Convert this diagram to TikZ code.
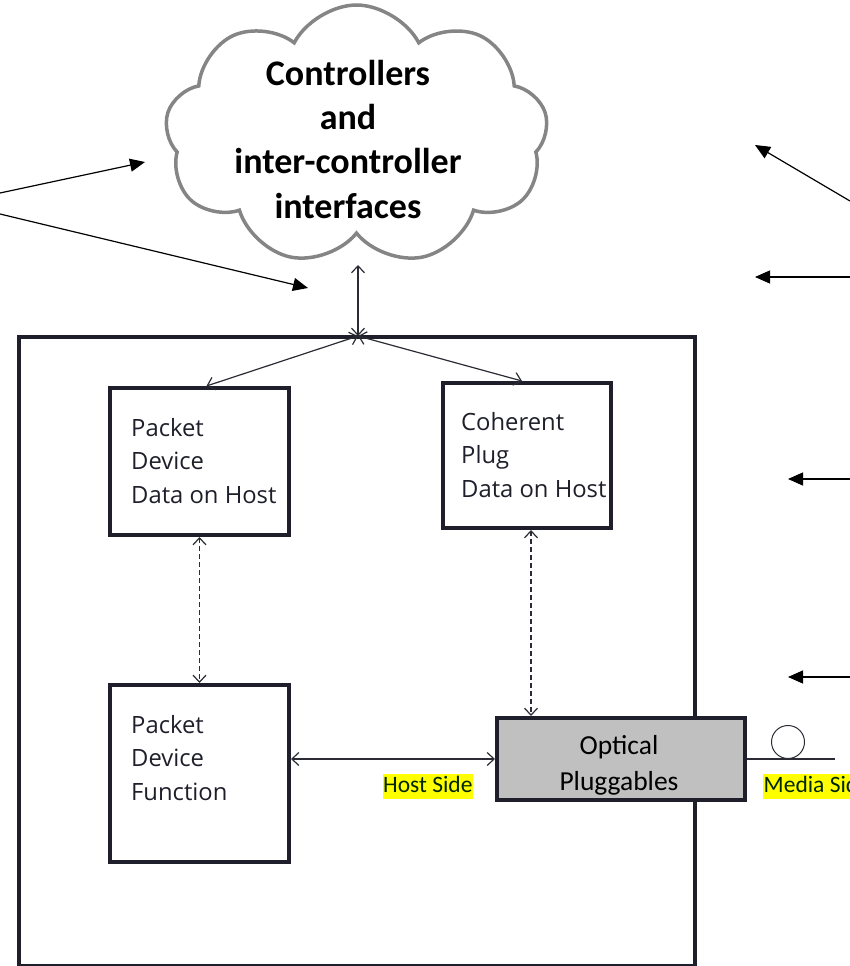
\documentclass[tikz,border=0pt]{standalone}
\usepackage{fontspec}
\usetikzlibrary{shapes.symbols,arrows.meta}
\newfontfamily\carlito{Carlito}
\newfontfamily\opensans{Open Sans}
\definecolor{boxline}{HTML}{1E1F2A}
\definecolor{cloudgray}{HTML}{858585}
\definecolor{plugfill}{HTML}{C0C0C0}
\definecolor{linkgray}{HTML}{2B2B35}
\definecolor{hilite}{HTML}{FFFF00}
\tikzset{
  frame/.style={draw=boxline, line width=4pt},
  block/.style={draw=boxline, line width=4pt, inner sep=0pt, minimum width=#1},
  blocktext/.style={font=\opensans\fontsize{23.8}{33.5}\selectfont, align=left, inner sep=0pt, text=boxline},
  link/.style={draw=linkgray, line width=1.2pt, {Straight Barb[length=7pt,width=13pt]}-{Straight Barb[length=7pt,width=13pt]}},
  dashlink/.style={link, dash pattern=on 5pt off 3pt},
  callout/.style={draw=black, line width=1.2pt, -{Triangle[length=15pt,width=13pt]}},
  sidelabel/.style={font=\carlito\fontsize{23.5}{23.5}\selectfont, fill=hilite, inner xsep=0.5pt, inner ysep=1pt, text height=17pt, text depth=6pt, text=black!85!green},
}
\begin{document}
\begin{tikzpicture}[x=1pt, y=-1pt]
\useasboundingbox (0,0) rectangle (850,966);

% cloud of controllers
\node[cloud, draw=cloudgray, line width=3.5pt, cloud puffs=9, cloud puff arc=125,
      minimum width=383pt, minimum height=260pt, inner sep=0pt] (ctrl) at (356.5,135) {};
\node[font=\carlito\bfseries\fontsize{36}{44.3}\selectfont, align=center, inner sep=0pt, anchor=base]
      (ctrltext) at (348,218) {Controllers\\and\\inter-controller\\interfaces};

% host enclosure
\draw[frame] (19,337) rectangle (695,966);

% functional blocks
\node[block=179pt, minimum height=147pt] (pdd) at (199.5,461.5) {};
\node[block=168pt, minimum height=145pt] (coh) at (527,455.5) {};
\node[block=179pt, minimum height=177pt] (pdf) at (199.5,773.5) {};
\node[block=248pt, minimum height=82pt, fill=plugfill] (opt) at (621,759) {};

\node[blocktext, anchor=base west] (pddtext) at (131,503) {Packet\\Device\\Data on Host};
\node[blocktext, anchor=base west] (cohtext) at (461,497) {Coherent\\Plug\\Data on Host};
\node[blocktext, anchor=base west] (pdftext) at (131,800) {Packet\\Device\\Function};
\node[font=\carlito\fontsize{27.5}{35.5}\selectfont, align=center, inner sep=0pt, anchor=base]
      (opttext) at (619,790) {Optical\\Pluggables};

% management links
\coordinate (cloudfoot) at (358,265);
\coordinate (hub) at (358,336);
\draw[link] (cloudfoot) -- (hub);
\draw[link] (hub) -- ([xshift=7pt]pdd.north);
\draw[link] (hub) -- ([xshift=-5pt]coh.north);
\draw[dashlink] (pdd.south) -- (pdf.north);
\draw[dashlink] ([xshift=4pt]coh.south) -- ([xshift=4pt]coh.south |- opt.north);
\draw[link] (opt.west -| pdf.east) -- (opt.west);

% media side fibre
\coordinate (fibreend) at (835,759);
\draw[draw=linkgray, line width=1.2pt] (opt.east) -- (fibreend);
\node[circle, draw=linkgray, line width=1pt, minimum size=33pt, inner sep=0pt] (fibreloop) at (788,742) {};

\node[sidelabel, anchor=base west] (hostside) at (382.5,792) {Host Side};
\node[sidelabel, anchor=base west] (mediaside) at (763,792) {Media Side};

% callout arrows
\coordinate (lsrc1) at (0,193);
\coordinate (lsrc2) at (0,214);
\coordinate (ltip1) at (145,162);
\coordinate (ltip2) at (308,288);
\draw[callout] (lsrc1) -- (ltip1);
\draw[callout] (lsrc2) -- (ltip2);

\coordinate (rsrc1) at (850,201);
\coordinate (rtip1) at (755,145);
\coordinate (rsrc2) at (850,277);
\coordinate (rtip2) at (755,277);
\coordinate (rsrc3) at (850,479);
\coordinate (rtip3) at (788,479);
\coordinate (rsrc4) at (850,677);
\coordinate (rtip4) at (788,677);
\draw[callout] (rsrc1) -- (rtip1);
\draw[callout] (rsrc2) -- (rtip2);
\draw[callout] (rsrc3) -- (rtip3);
\draw[callout] (rsrc4) -- (rtip4);
\end{tikzpicture}
\end{document}
